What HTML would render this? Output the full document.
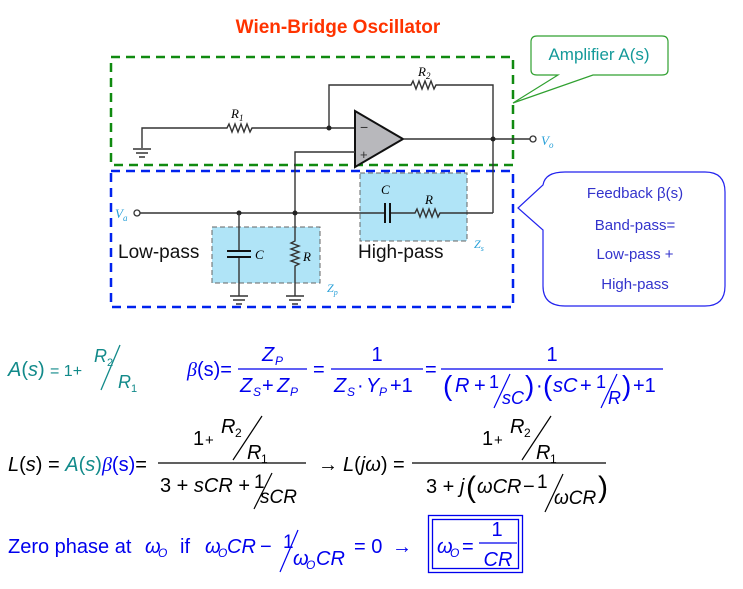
<!DOCTYPE html>
<html><head><meta charset="utf-8"><style>
html,body{margin:0;padding:0;background:#fff;}
svg{display:block;font-family:"Liberation Sans",sans-serif;}
.s{font-family:"Liberation Serif",serif;font-style:italic;}
.w{stroke:#333;stroke-width:1.4;fill:none;}
.e{font-size:20px;fill:#0000ee;}
.k{font-size:20px;fill:#000;}
.t{font-size:20px;fill:#128a8a;}
.it{font-style:italic}
</style></head><body>
<svg width="743" height="589" viewBox="0 0 743 589">
<text x="338" y="33" text-anchor="middle" font-size="19" font-weight="bold" fill="#ff3300">Wien-Bridge Oscillator</text>

<rect x="212" y="227" width="108" height="56" fill="#b0e4f7" stroke="#666" stroke-dasharray="5,3"/>
<rect x="360" y="173" width="107" height="68" fill="#b0e4f7" stroke="#666" stroke-dasharray="5,3"/>

<rect x="111" y="57" width="402" height="108" fill="none" stroke="#108a10" stroke-width="2.5" stroke-dasharray="9,6"/>
<rect x="111" y="171" width="402" height="136" fill="none" stroke="#0022ee" stroke-width="2.5" stroke-dasharray="9,6"/>

<g>
<path class="w" d="M142,148 V128 H227 l2,-4 l3,8 l3,-8 l3,8 l3,-8 l3,8 l3,-8 l3,8 l2,-4 H355"/>
<path class="w" d="M133,149 h18 M136,153 h12 M139,157 h6" stroke-width="2"/>
<text class="s" x="231" y="118" font-size="13">R<tspan font-size="9" dy="3">1</tspan></text>
<path class="w" d="M329,128 V85 H411 l2,-4 l3,8 l3,-8 l3,8 l3,-8 l3,8 l3,-8 l3,8 l2,-4 H493 V213"/>
<text class="s" x="418" y="76" font-size="13">R<tspan font-size="9" dy="3">2</tspan></text>
<circle cx="329" cy="128" r="2.5" fill="#222"/>
<path d="M355,111 L403,139 L355,167 Z" fill="#b8b8bc" stroke="#111" stroke-width="2"/>
<text x="360" y="132" font-size="14" fill="#333">−</text>
<text x="360" y="159" font-size="13" fill="#333">+</text>
<path class="w" d="M403,139 H530"/>
<circle cx="493" cy="139" r="2.5" fill="#222"/>
<circle cx="533" cy="139" r="3" fill="#fff" stroke="#333" stroke-width="1.3"/>
<text class="s" x="541" y="145" font-size="13" fill="#29a0d8">V<tspan font-size="9" dy="3">o</tspan></text>
<path class="w" d="M355,152 H295 V241 l-4,2 l8,3 l-8,3 l8,3 l-8,3 l8,3 l-8,3 l8,3 l-4,2 V296"/>
<path class="w" d="M286,296 h18 M289,300 h12 M292,304 h6" stroke-width="2"/>
<circle cx="137" cy="213" r="3" fill="#fff" stroke="#333" stroke-width="1.3"/>
<text class="s" x="115" y="218" font-size="13" fill="#29a0d8">V<tspan font-size="9" dy="3">a</tspan></text>
<path class="w" d="M140,213 H385 M390,213 H415 l2,-4 l3,8 l3,-8 l3,8 l3,-8 l3,8 l3,-8 l3,8 l2,-4 H493"/>
<path d="M385,203 V223 M390,203 V223" stroke="#111" stroke-width="2"/>
<text class="s" x="381" y="194" font-size="13">C</text>
<text class="s" x="425" y="204" font-size="13">R</text>
<circle cx="239" cy="213" r="2.5" fill="#222"/>
<circle cx="295" cy="213" r="2.5" fill="#222"/>
<path class="w" d="M239,213 V251 M239,257 V296"/>
<path d="M227,251 H251 M227,257 H251" stroke="#111" stroke-width="2"/>
<path class="w" d="M230,296 h18 M233,300 h12 M236,304 h6" stroke-width="2"/>
<text class="s" x="255" y="259" font-size="13">C</text>
<text class="s" x="303" y="261" font-size="13">R</text>
<text class="s" x="327" y="292" font-size="12" fill="#29a0d8">Z<tspan font-size="8" dy="3">p</tspan></text>
<text class="s" x="474" y="248" font-size="12" fill="#29a0d8">Z<tspan font-size="8" dy="3">s</tspan></text>
</g>
<text x="118" y="258" font-size="19" fill="#111">Low-pass</text>
<text x="358" y="258" font-size="19" fill="#111">High-pass</text>

<path d="M537,36 H662 Q668,36 668,42 V70 Q668,75 662,75 H593 L513,103 L558,75 H537 Q531,75 531,70 V42 Q531,36 537,36 Z" fill="#fff" stroke="#30a030" stroke-width="1.2"/>
<text x="599" y="60" text-anchor="middle" font-size="17" fill="#149a9a">Amplifier A(s)</text>
<path d="M565,172 H705 Q725,172 725,192 V286 Q725,306 705,306 H565 Q543,306 543,286 V230 L518,208 L543,185 Q545,172 565,172 Z" fill="#fff" stroke="#2222ee" stroke-width="1.2"/>
<g font-size="15" fill="#3333cc" text-anchor="middle">
<text x="635" y="198">Feedback β(s)</text>
<text x="635" y="230">Band-pass=</text>
<text x="635" y="259">Low-pass +</text>
<text x="635" y="289">High-pass</text>
</g>

<!-- row 1 -->
<g class="t">
<text x="8" y="376"><tspan class="it">A</tspan>(<tspan class="it">s</tspan>)</text>
<text x="50" y="376" font-size="16">= 1+</text>
<text x="94" y="362" class="it" font-size="18">R</text>
<text x="107" y="366" font-size="11">2</text>
<path d="M120,345 L101,390" stroke="#128a8a" stroke-width="1.3"/>
<text x="118" y="388" class="it" font-size="18">R</text>
<text x="131" y="392" font-size="11">1</text>
</g>
<g class="e">
<text x="187" y="376"><tspan font-style="italic" font-family="Liberation Serif">β</tspan>(s)=</text>
<text x="262" y="361" class="it">Z</text><text x="275" y="365" font-size="12" class="it">P</text>
<path d="M238,369 H307 M331,369 H423 M441,369 H663" stroke="#0000ee" stroke-width="1.2"/>
<text x="240" y="392" class="it">Z</text><text x="253" y="396" font-size="12" class="it">S</text>
<text x="262" y="392">+</text>
<text x="277" y="392" class="it">Z</text><text x="290" y="396" font-size="12" class="it">P</text>
<text x="313" y="376">=</text>
<text x="377" y="361" text-anchor="middle">1</text>
<text x="334" y="392" class="it">Z</text><text x="347" y="396" font-size="12" class="it">S</text>
<text x="357" y="392">·</text>
<text x="366" y="392" class="it">Y</text><text x="379" y="396" font-size="12" class="it">P</text>
<text x="390" y="392">+1</text>
<text x="425" y="376">=</text>
<text x="552" y="361" text-anchor="middle">1</text>
<text x="443" y="395" font-size="28">(</text>
<text x="455" y="392" class="it">R</text>
<text x="474" y="392">+</text>
<text x="489" y="388" font-size="18">1</text>
<path d="M510,374 L494,408" stroke="#0000ee" stroke-width="1.2"/>
<text x="502" y="404" class="it" font-size="18">sC</text>
<text x="525" y="395" font-size="28">)</text>
<text x="536" y="392">·</text>
<text x="543" y="395" font-size="28">(</text>
<text x="553" y="392" class="it">sC</text>
<text x="580" y="392">+</text>
<text x="596" y="388" font-size="18">1</text>
<path d="M617,374 L601,408" stroke="#0000ee" stroke-width="1.2"/>
<text x="608" y="404" class="it" font-size="18">R</text>
<text x="622" y="395" font-size="28">)</text>
<text x="633" y="392">+1</text>
</g>

<!-- row 2 -->
<g class="k">
<text x="8" y="471"><tspan class="it">L</tspan>(<tspan class="it">s</tspan>) = <tspan fill="#128a8a"><tspan class="it">A</tspan>(<tspan class="it">s</tspan>)</tspan><tspan fill="#0000ee"><tspan font-family="Liberation Serif" font-style="italic">β</tspan>(s)</tspan>=</text>
<text x="193" y="445">1</text><text x="205" y="445" font-size="15">+</text>
<text x="221" y="433" class="it">R</text><text x="235" y="437" font-size="12">2</text>
<path d="M262,416 L233,460" stroke="#000" stroke-width="1.2"/>
<text x="247" y="459" class="it">R</text><text x="261" y="463" font-size="12">1</text>
<path d="M158,463 H306" stroke="#000" stroke-width="1.2"/>
<text x="160" y="492">3 + <tspan class="it">sCR</tspan> +</text>
<text x="254" y="488" font-size="19">1</text>
<path d="M272,473 L254,509" stroke="#000" stroke-width="1.2"/>
<text x="260" y="503" class="it" font-size="19">sCR</text>
<text x="318" y="471">→</text>
<text x="343" y="471"><tspan class="it">L</tspan>(<tspan class="it">jω</tspan>) =</text>
<text x="482" y="445">1</text><text x="494" y="445" font-size="15">+</text>
<text x="510" y="433" class="it">R</text><text x="524" y="437" font-size="12">2</text>
<path d="M551,416 L522,460" stroke="#000" stroke-width="1.2"/>
<text x="536" y="459" class="it">R</text><text x="550" y="463" font-size="12">1</text>
<path d="M412,463 H606" stroke="#000" stroke-width="1.2"/>
<text x="426" y="493">3 + <tspan class="it">j</tspan></text>
<text x="466" y="497" font-size="30">(</text>
<text x="477" y="493" class="it">ωCR</text>
<text x="523" y="493">−</text>
<text x="537" y="488" font-size="19">1</text>
<path d="M563,474 L545,512" stroke="#000" stroke-width="1.2"/>
<text x="554" y="504" class="it" font-size="19">ωCR</text>
<text x="598" y="497" font-size="30">)</text>
</g>

<!-- row 3 -->
<g class="e">
<text x="8" y="553">Zero phase at</text>
<text x="145" y="553" class="it">ω</text><text x="158" y="557" font-size="12" class="it">O</text>
<text x="180" y="553">if</text>
<text x="205" y="553" class="it">ω</text><text x="218" y="557" font-size="12" class="it">O</text>
<text x="227" y="553" class="it">CR</text>
<text x="260" y="553">−</text>
<text x="283" y="548" font-size="19">1</text>
<path d="M298,530 L280,572" stroke="#0000ee" stroke-width="1.2"/>
<text x="293" y="565" class="it">ω</text><text x="306" y="569" font-size="12" class="it">O</text>
<text x="316" y="565" class="it">CR</text>
<text x="354" y="553">= 0</text>
<text x="392" y="553">→</text>
</g>
<g class="e">
<rect x="428.5" y="515.5" width="94" height="57" fill="none" stroke="#0000ee" stroke-width="1.3"/>
<rect x="432.5" y="519.5" width="86" height="49" fill="none" stroke="#0000ee" stroke-width="1.3"/>
<text x="437" y="553" class="it">ω</text><text x="450" y="557" font-size="12" class="it">O</text>
<text x="462" y="553">=</text>
<text x="497" y="536" text-anchor="middle">1</text>
<path d="M479,543 H517" stroke="#0000ee" stroke-width="1.2"/>
<text x="498" y="566" text-anchor="middle" class="it">CR</text>
</g>
</svg>
</body></html>
